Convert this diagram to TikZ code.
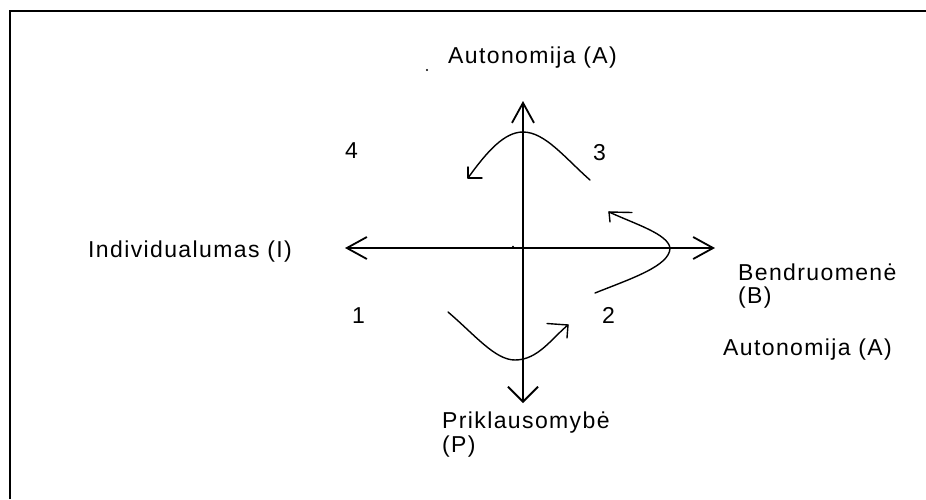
\documentclass[tikz,border=0pt]{standalone}
\usepackage{fontspec}
\setmainfont{Liberation Sans}[LetterSpace=6]
\usetikzlibrary{arrows.meta}
\tikzset{
  bigtip/.tip={Straight Barb[length=20pt,width=22pt]},
  downtip/.tip={Straight Barb[length=15pt,width=30pt]}
}
\begin{document}
\begin{tikzpicture}[x=1pt,y=-1pt,
  frame/.style={line width=2.2pt},
  axis/.style={line width=1.8pt},
  curve/.style={line width=1.4pt, line cap=round, line join=round},
  lbl/.style={inner sep=0pt, anchor=base west, font=\fontsize{23}{25}\selectfont}]
\useasboundingbox (0,0) rectangle (926,499);
\fill[white] (0,0) rectangle (926,499);
% frame
\draw[frame] (10,499) -- (10,11) -- (926,11);
% axes
\coordinate (L) at (345,248);
\coordinate (R) at (715,248);
\coordinate (T) at (523,101);
\coordinate (B) at (523,403);
\draw[axis, bigtip-bigtip] (L) -- (R);
\draw[axis, bigtip-downtip] (T) -- (B);
% dots
\fill (427,70) circle (1.2);
\fill (513,246.5) circle (1);
% curve 3 -> 4
\coordinate (c1s) at (590,180);
\coordinate (c1t) at (468,178);
\draw[curve] (c1s) .. controls (565,158) and (545,132) .. (523,132)
  .. controls (505,132) and (488,150) .. (c1t);
\draw[curve] (468,167) -- (c1t) -- (482,178);
% curve 2 -> 3
\coordinate (c2s) at (595,293);
\coordinate (c2t) at (609,212);
\draw[curve] (c2s) .. controls (630,279) and (670,266) .. (670,248)
  .. controls (668,234) and (635,224) .. (c2t);
\draw[curve] (632,212.5) -- (c2t) -- (610,222);
% curve 1 -> 2
\coordinate (c3s) at (448,312);
\coordinate (c3t) at (568,325);
\draw[curve] (c3s) .. controls (475,335) and (495,360) .. (515,360)
  .. controls (538,360) and (552,338) .. (c3t);
\draw[curve] (547,323.5) -- (c3t) -- (567,338);
% labels
\node[lbl] (tA) at (448,63) {Autonomija (A)};
\node[lbl] (lI) at (88,257) {Individualumas (I)};
\node[lbl] (rB1) at (738,280) {Bendruomenė};
\node[lbl] (rB2) at (738,303) {(B)};
\node[lbl] (rA) at (723,355) {Autonomija (A)};
\node[lbl] (bP1) at (442,428) {Priklausomybė};
\node[lbl] (bP2) at (442,452) {(P)};
\node[lbl] (q4) at (345,158) {4};
\node[lbl] (q3) at (593,160) {3};
\node[lbl] (q1) at (352,323) {1};
\node[lbl] (q2) at (602,323) {2};
\end{tikzpicture}
\end{document}
